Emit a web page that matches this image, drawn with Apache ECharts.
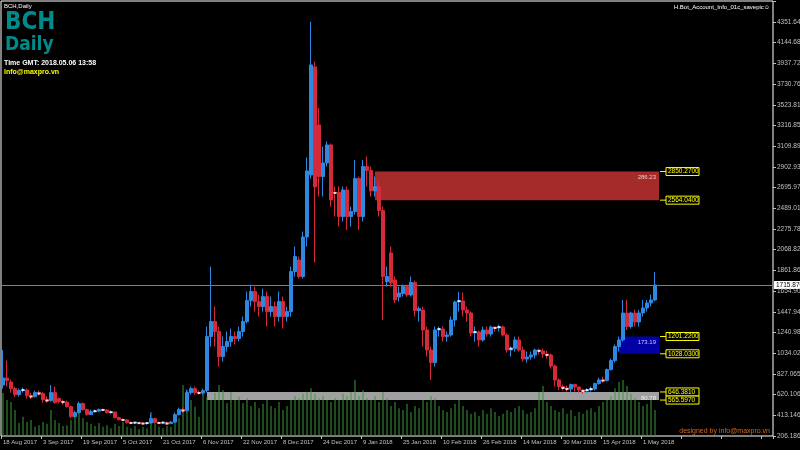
<!DOCTYPE html>
<html><head><meta charset="utf-8">
<script src="https://cdn.jsdelivr.net/npm/echarts@6/dist/echarts.min.js"></script>
<style>html,body{margin:0;padding:0;background:#000;}#c{width:800px;height:450px;}</style>
</head><body><div id="c"></div>
<script>
// ---- data ----
const dateLabels = ['18 Aug 2017','3 Sep 2017','19 Sep 2017','5 Oct 2017','21 Oct 2017','6 Nov 2017','22 Nov 2017','8 Dec 2017','24 Dec 2017','9 Jan 2018','25 Jan 2018','10 Feb 2018','26 Feb 2018','14 Mar 2018','30 Mar 2018','15 Apr 2018','1 May 2018'];
const priceLabels = ['206.1865','413.1460','620.1060','827.0650','1034.024','1240.984','1447.943','1654.903','1861.862','2068.822','2275.781','2489.012','2695.972','2902.931','3109.891','3316.850','3523.810','3730.769','3937.729','4144.688','4351.648'];
const opens = [716,786,746,680,620,660,666,610,600,640,630,570,560,640,580,550,545,500,400,440,530,470,420,450,455,470,466,440,445,390,370,366,340,336,340,335,330,336,380,340,336,340,330,345,420,470,460,640,680,640,636,660,1200,1350,1250,1000,1100,1150,1200,1180,1250,1350,1560,1650,1550,1500,1600,1450,1500,1400,1550,1400,1450,1850,1966,1800,2196,2816,3896,3316,2800,2936,3116,2640,2640,2400,2666,2400,2450,2780,2400,2900,2860,2656,2700,2460,1750,2036,1766,1596,1630,1700,1616,1740,1460,1466,1266,1066,940,1266,1276,1200,1216,1366,1546,1556,1466,1436,1236,1246,1166,1266,1226,1296,1286,1296,1216,1066,1080,1166,1066,976,996,1016,1066,1056,1026,1016,906,766,700,686,676,720,696,666,656,666,676,730,766,760,870,960,1100,1166,1436,1300,1436,1346,1436,1486,1536,1566];
const closes = [786,760,680,620,660,666,610,600,640,630,570,560,640,540,550,545,500,400,440,530,470,420,450,455,470,466,440,445,390,370,366,340,336,340,335,330,336,380,340,336,340,330,345,420,470,460,640,680,640,636,660,1200,1350,1250,1000,1100,1150,1200,1180,1250,1350,1560,1650,1550,1500,1600,1450,1500,1400,1550,1400,1450,1850,2000,1800,2196,2856,3916,2696,2800,2936,3116,2566,2636,2400,2666,2400,2450,2780,2400,2900,2860,2656,2700,2460,1800,1800,1736,1566,1636,1700,1616,1740,1460,1480,1266,1066,940,1266,1276,1200,1216,1366,1546,1556,1466,1436,1236,1246,1166,1266,1226,1296,1286,1296,1216,1066,1080,1166,1066,976,996,1016,1066,1056,1026,1016,906,766,700,686,676,720,696,666,656,666,676,730,766,760,870,960,1100,1166,1436,1300,1436,1346,1436,1486,1536,1566,1716];
const lows = [680,700,640,596,600,640,580,576,590,610,540,540,550,530,530,520,490,380,390,430,460,410,415,440,445,455,430,430,380,360,355,330,325,325,325,320,320,330,330,325,325,320,325,340,410,440,450,620,620,620,620,640,1100,1100,900,950,1050,1100,1120,1150,1200,1330,1500,1450,1400,1450,1300,1400,1300,1350,1280,1350,1400,1800,1780,1780,2100,2780,1940,2600,2600,2900,2500,2400,2300,2350,2266,2300,2420,2266,2350,2700,2600,2600,2400,1366,1700,1700,1536,1550,1600,1600,1600,1400,1350,1100,1000,766,900,1200,1150,1150,1200,1300,1450,1400,1350,1200,1150,1100,1150,1200,1200,1250,1250,1200,1040,1000,1050,1050,950,940,970,980,1020,990,980,880,700,666,660,650,640,650,640,630,636,650,660,720,740,750,860,940,1050,1150,1266,1280,1300,1300,1400,1450,1500,1550];
const highs = [1066,960,770,700,680,690,680,640,660,660,645,600,716,700,590,570,560,510,460,550,540,480,470,470,480,480,475,460,450,400,380,375,350,350,345,345,345,430,390,350,350,350,355,440,490,490,670,700,700,660,680,1300,1900,1500,1300,1200,1250,1280,1250,1300,1400,1650,1720,1700,1620,1680,1650,1600,1550,1650,1600,1500,1900,2100,2000,2250,2990,4346,3950,3486,3100,3150,3130,2700,2700,2700,2700,2500,2966,2800,2966,3000,2900,2800,2750,2500,1900,2100,1800,1700,1720,1720,1800,1760,1500,1500,1300,1100,1300,1300,1300,1250,1400,1560,1646,1640,1500,1450,1300,1260,1300,1300,1310,1300,1320,1310,1230,1100,1200,1200,1100,1050,1050,1080,1080,1080,1060,1030,920,780,720,710,730,730,700,680,680,700,740,790,800,880,980,1120,1200,1566,1566,1450,1470,1466,1566,1566,1620,1846];
const volumes = [99,83,78,60,30,44,32,37,21,25,32,28,60,37,30,23,25,37,46,60,41,32,28,23,30,21,25,18,28,23,32,21,18,23,16,21,18,55,28,21,18,23,21,32,41,117,106,83,67,44,101,90,83,99,117,106,76,101,83,90,76,87,69,78,64,74,83,69,64,78,60,69,83,92,87,97,101,110,97,87,92,83,78,87,83,97,92,101,129,92,106,87,83,92,78,101,87,69,78,64,60,74,55,69,64,83,78,92,87,69,60,55,64,74,83,69,60,51,55,46,60,51,64,55,46,51,60,55,64,69,60,51,55,64,101,115,78,69,60,55,64,51,60,46,55,51,60,64,55,69,78,83,92,110,124,129,115,97,87,78,69,74,83,60];
const zoneHigh = [2850.27, 1201.22, 646.381];
const zoneLow = [2564.04, 1028.03, 565.597];
const zoneStart = [92.5, 153.5, 50.5];
const zoneEnd = 164;
const lastPrice = 1715.87;

// ---- chart ----
const N = 193;
const cats = [];
for (let i = 0; i < N; i++) cats.push('b' + i);
const Y0 = 206.1865, STEP = 206.96;
const candle = opens.map((o, i) => [o, closes[i], lows[i], highs[i]]);
const doji = opens.map((o, i) => Math.abs(o - closes[i]) < 15 ? [i, closes[i]] : null).filter(Boolean);
const zoneColors = ['#a52a2a', '#0000a5', '#a0a0a0'];
const zoneTextColors = ['#f0c8c8', '#c8c8ff', '#f0f0f0'];
const zoneAreas = zoneHigh.map((h, k) => [
  { xAxis: zoneStart[k], yAxis: h, itemStyle: { color: zoneColors[k], opacity: 1 },
    label: { show: true, position: 'insideTopRight', formatter: (h - zoneLow[k]).toFixed(2), color: zoneTextColors[k], fontSize: 6, fontFamily: 'Liberation Sans', distance: 3 } },
  { xAxis: zoneEnd, yAxis: zoneLow[k] }
]);

const chart = echarts.init(document.getElementById('c'), null, { renderer: 'canvas' });
chart.setOption({
  backgroundColor: '#000',
  animation: false,
  grid: { left: 1, top: 1, right: 27, bottom: 14, show: true, borderColor: '#ffffff', borderWidth: 1, containLabel: false, outerBoundsMode: 'none' },
  xAxis: {
    type: 'category', data: cats, boundaryGap: true,
    axisLine: { show: false },
    axisTick: { show: true, interval: 9, length: 3, lineStyle: { color: '#c0c0c0' } },
    axisLabel: { interval: 9, align: 'left', color: '#c0c0c0', fontSize: 6, fontFamily: 'Liberation Sans', margin: 3, hideOverlap: false,
      formatter: (v, idx) => dateLabels[idx / 10] || '' }
  },
  yAxis: [{
    type: 'value', position: 'right', min: Y0, max: 4555, interval: STEP,
    splitLine: { show: false },
    axisLine: { show: false },
    axisTick: { show: true, length: 3, lineStyle: { color: '#c0c0c0' } },
    axisLabel: { color: '#c0c0c0', fontSize: 6.5, fontFamily: 'Liberation Sans', margin: 4, showMaxLabel: false, hideOverlap: false,
      formatter: v => { const k = Math.round((v - Y0) / STEP); return Math.abs(v - (Y0 + k * STEP)) < 1 ? (priceLabels[k] || '') : ''; } }
  }, {
    type: 'value', min: 0, max: 1000, show: false
  }],
  series: [
    { type: 'bar', yAxisIndex: 1, data: volumes, barWidth: 1, itemStyle: { color: '#3f973f' }, z: 5 },
    { type: 'candlestick', data: candle, barWidth: 3, z: 6,
      itemStyle: { color: '#2f88e0', color0: '#d42a3a', borderColor: '#2f88e0', borderColor0: '#d42a3a', borderWidth: 1 },
      markArea: { silent: true, z: 1, data: zoneAreas },
      markLine: { silent: true, symbol: 'none', z: 1, label: { show: false }, lineStyle: { color: '#808080', type: 'solid', width: 1 },
        data: [{ yAxis: lastPrice }] }
    },
    { type: 'scatter', data: doji, symbol: 'rect', symbolSize: [3, 2], itemStyle: { color: '#ffffff' }, z: 7 }
  ]
});

// overlay labels placed through the chart's own scales
const g = [];
const font = 'Liberation Sans';
const narrow = "'Liberation Sans Narrow','DejaVu Sans Condensed','Liberation Sans',sans-serif";
[...zoneHigh, ...zoneLow].forEach(p => {
  const pt = chart.convertToPixel({ xAxisIndex: 0, yAxisIndex: 0 }, [zoneEnd, p]);
  const txt = p.toFixed(4);
  g.push({ type: 'line', shape: { x1: pt[0] + 1, y1: pt[1], x2: pt[0] + 7, y2: pt[1] }, style: { stroke: '#ffff00', lineWidth: 1 } });
  g.push({ type: 'rect', shape: { x: pt[0] + 7, y: pt[1] - 4, width: 33, height: 8 }, style: { fill: '#000', stroke: '#ffff00', lineWidth: 1 } });
  g.push({ type: 'text', x: pt[0] + 9, y: pt[1], style: { text: txt, fill: '#ffff00', font: '6.5px ' + font, verticalAlign: 'middle' } });
});
const lp = chart.convertToPixel({ xAxisIndex: 0, yAxisIndex: 0 }, [0, lastPrice]);
g.push({ type: 'rect', shape: { x: 774, y: lp[1] - 4, width: 26, height: 8 }, style: { fill: '#ffffff' } });
g.push({ type: 'text', x: 776, y: lp[1], style: { text: lastPrice.toFixed(3), fill: '#000', font: '6.5px ' + font, verticalAlign: 'middle' } });
// titles
g.push({ type: 'text', x: 4, y: 3, style: { text: 'BCH,Daily', fill: '#ffffff', font: '6px ' + font } });
g.push({ type: 'text', x: 5, y: 11, style: { text: 'BCH', fill: '#008b8b', font: 'bold 24px ' + narrow } });
g.push({ type: 'text', x: 5, y: 36, style: { text: 'Daily', fill: '#008b8b', font: 'bold 19px ' + narrow } });
g.push({ type: 'text', x: 4, y: 60, style: { text: 'Time GMT: 2018.05.06 13:58', fill: '#ffffff', font: 'bold 7px ' + font } });
g.push({ type: 'text', x: 4, y: 69, style: { text: 'info@maxpro.vn', fill: '#ffff00', font: 'bold 7px ' + font } });
g.push({ type: 'text', x: 770, y: 4, style: { text: 'H.Bot_Account_Info_01c_savepic\u263A', fill: '#ffffff', font: '6px ' + font, align: 'right' } });
g.push({ type: 'text', x: 770, y: 431, style: { text: 'designed by info@maxpro.vn', fill: '#d2691e', font: '7px ' + font, align: 'right', verticalAlign: 'middle' } });
chart.setOption({ graphic: g });
</script></body></html>
